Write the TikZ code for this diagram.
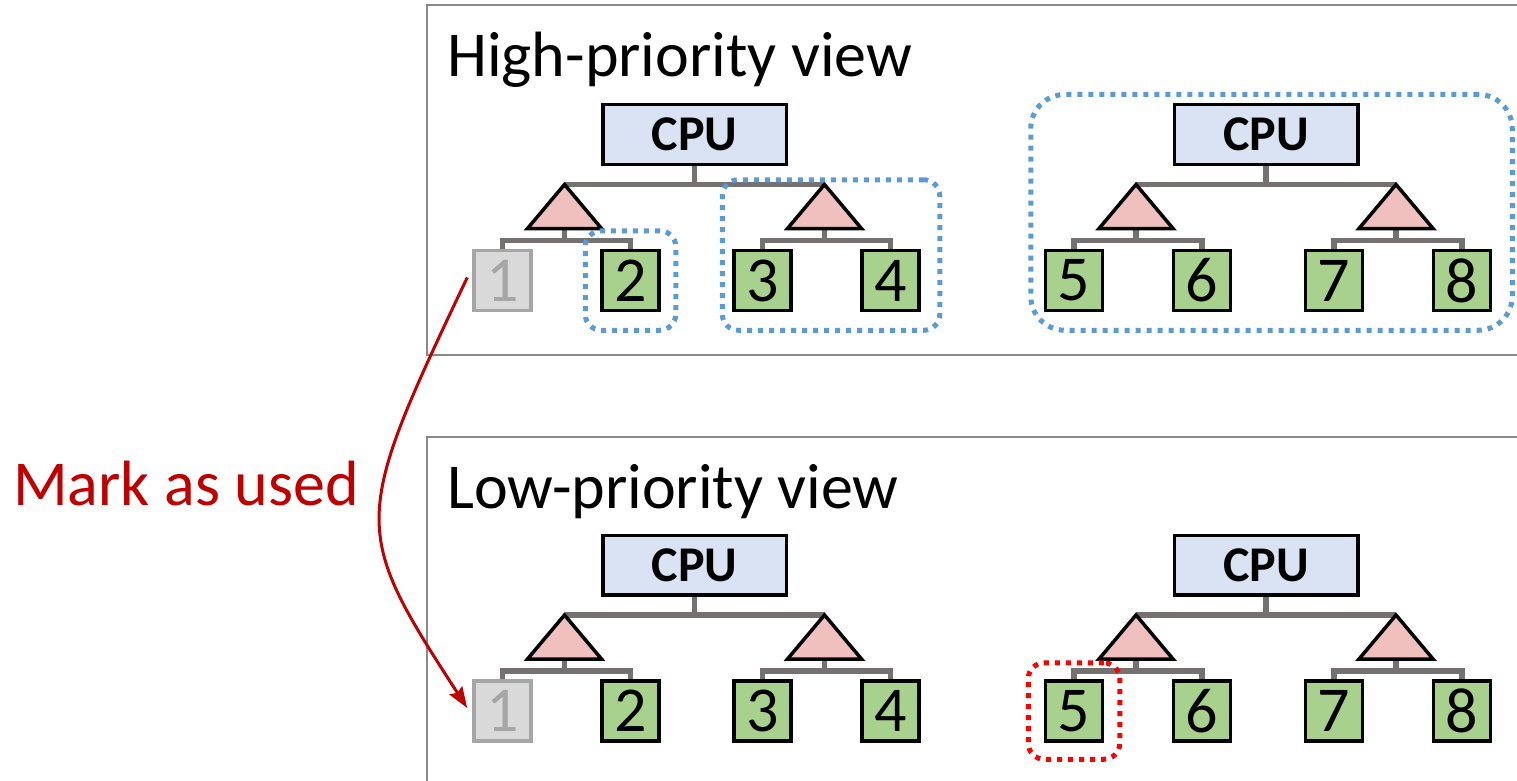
\documentclass[tikz,border=0pt]{standalone}
\usepackage{fontspec}
\setmainfont{Carlito}
\usetikzlibrary{arrows.meta,fit,calc}
\definecolor{cpufill}{HTML}{DAE3F3}
\definecolor{trifill}{HTML}{F0C0BE}
\definecolor{leaffill}{HTML}{A9D18E}
\definecolor{usedfill}{HTML}{D9D9D9}
\definecolor{usedline}{HTML}{A6A6A6}
\definecolor{wiregray}{HTML}{767171}
\definecolor{framegray}{HTML}{8A8A8A}
\definecolor{grpblue}{HTML}{5B9BD5}
\definecolor{grpred}{HTML}{FF0000}
\definecolor{markred}{HTML}{C00000}

\tikzset{
  % one CPU with two switches and four devices; #1..#4 are the device labels
  pics/cputree/.style n args={4}{code={
    \node[cpu] (-cpu) at (0,0) {CPU};
    \node[firstleaf] (-b1) at (-192,146) {#1};
    \node[leaf] (-b2) at (-64,146) {#2};
    \node[leaf] (-b3) at (68,146) {#3};
    \node[leaf] (-b4) at (196,146) {#4};
    \coordinate (-top) at (0,50);
    \coordinate (-ta) at (-130,50);
    \coordinate (-tb) at (130,50);
    \coordinate (-ba) at (-130,94);
    \coordinate (-bb) at (130,94);
    \coordinate (-ka) at (-130,106);
    \coordinate (-kb) at (130,106);
    \draw[wire] (-cpu.south) -- (-top);
    \draw[wire] (-ta) -- (-tb);
    \draw[wire] (-ba) -- (-ka);
    \draw[wire] (-bb) -- (-kb);
    \draw[wire] (-b1.north) |- (-ka) -| (-b2.north);
    \draw[wire] (-b3.north) |- (-kb) -| (-b4.north);
    \draw[tri] (-ta) -- ++(37,44) -- ++(-74,0) -- cycle;
    \draw[tri] (-tb) -- ++(37,44) -- ++(-74,0) -- cycle;
  }}
}

\begin{document}
\begin{tikzpicture}[x=1pt,y=-1pt,
  cpu/.style={draw=black, line width=3.5pt, fill=cpufill, minimum width=183.5pt,
    minimum height=59.5pt, inner sep=0pt, font=\fontsize{50}{50}\selectfont\bfseries},
  leaf/.style={draw=black, line width=3.5pt, fill=leaffill, minimum width=57pt,
    minimum height=60pt, inner sep=0pt, font=\fontsize{64}{64}\selectfont},
  usedleaf/.style={leaf, draw=usedline, fill=usedfill, text=usedline},
  firstleaf/.style={leaf},
  wire/.style={draw=wiregray, line width=5.5pt},
  tri/.style={draw=black, line width=3.5pt, fill=trifill, line join=miter},
  frame/.style={draw=framegray, line width=2.5pt},
  title/.style={anchor=base west, inner sep=0pt, font=\fontsize{64}{64}\selectfont},
  grp/.style={draw=grpblue, line width=5pt, dash pattern=on 5pt off 6pt,
    rounded corners=16pt, inner sep=0pt},
  markarrow/.style={draw=markred, line width=3pt,
    -{Stealth[length=21pt,width=15pt,inset=3pt]}},
]
\useasboundingbox (0,0) rectangle (1517,781);

% view frames (open to the right)
\draw[frame] (1525,5) -- (427,5) -- (427,355) -- (1525,355);
\draw[frame] (1525,437) -- (427,437) -- (427,790);

% titles
\node[title] (hi) at (447,77) {High-priority view};
\node[title] (lo) at (447,508) {Low-priority view};
\node[title, text=markred] (mark) at (13,505) {Mark as used};

% topology trees
\pic[firstleaf/.style=usedleaf] (t1) at (694.5,134.5) {cputree={1}{2}{3}{4}};
\pic (t2) at (1266,134.5) {cputree={5}{6}{7}{8}};
\pic[firstleaf/.style=usedleaf] (t3) at (694.5,565) {cputree={1}{2}{3}{4}};
\pic (t4) at (1266,565) {cputree={5}{6}{7}{8}};

% groups in the high-priority view
\node[grp, fit=(t1-b2), inner xsep=15pt, inner ysep=18pt] (g2) {};
\node[grp, fit={($(t1-b3.north west)+(-10,-69)$) ($(t1-b4.south east)+(19,18)$)}] (g34) {};
\node[grp, rounded corners=34pt,
  fit={($(t2-b1.south west)+(-13,18)$) ($(t2-b4.east |- t2-cpu.north)+(20,-8.5)$)}] (g58) {};

% selected device in the low-priority view
\node[grp, draw=grpred, fit=(t4-b1), inner xsep=15.5pt, inner ysep=16.5pt] (g5) {};

% marking arrow
\draw[markarrow] ([xshift=-5pt,yshift=3pt]t1-b1.west)
  .. controls +(-116,244) and +(-116,-179) .. ([xshift=-5pt,yshift=3pt]t3-b1.west);
\end{tikzpicture}
\end{document}
